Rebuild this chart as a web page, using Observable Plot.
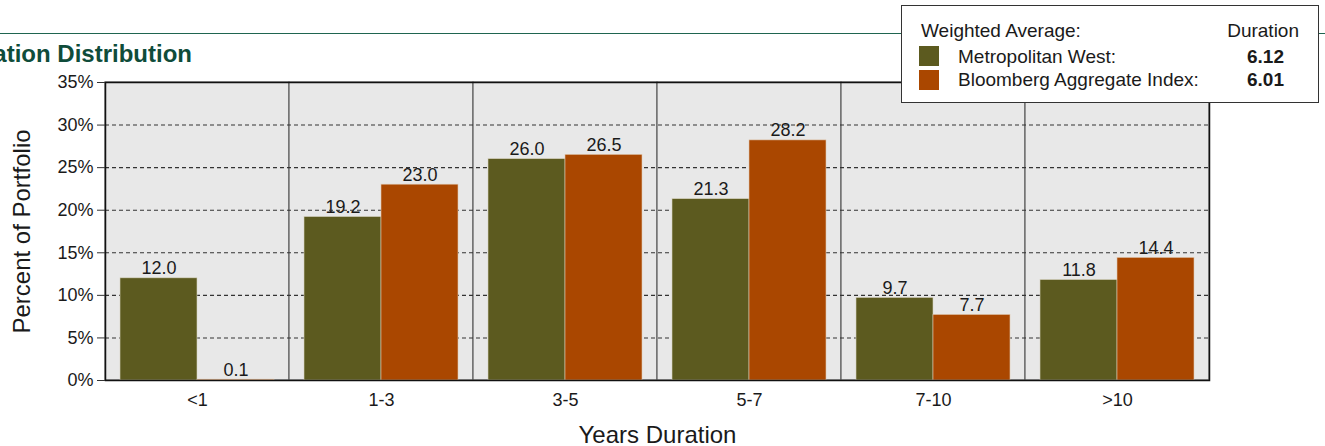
<!DOCTYPE html>
<html>
<head>
<meta charset="utf-8">
<script src="https://cdn.jsdelivr.net/npm/d3@7"></script>
<script src="https://cdn.jsdelivr.net/npm/@observablehq/plot@0.6"></script>
<style>
  html, body { margin: 0; padding: 0; background: #fff; overflow: hidden; }
  body { font-family: "Liberation Sans", Arial, Helvetica, sans-serif; color: #1a1a1a; }
  #wrap { position: relative; width: 1325px; height: 446px; }
  #topline { position: absolute; left: 0; top: 33px; width: 1325px; height: 0; border-top: 1.5px solid #1f6550; }
  #title { position: absolute; right: 1133px; top: 42px; font-size: 24px; font-weight: bold; color: #0f4c3a; white-space: nowrap; line-height: 24px; }
  #chart { position: absolute; left: 0; top: 0; }
  #legend { position: absolute; left: 901px; top: 5px; width: 416px; height: 96px; border: 1px solid #333; background: #fff; font-size: 19px; }
  #legend .t { position: absolute; line-height: 19px; white-space: nowrap; }
  #legend .sw { position: absolute; left: 17px; width: 20px; height: 20px; }
  #legend .v { font-weight: bold; }
</style>
</head>
<body>
<div id="wrap">
  <div id="topline"></div>
  <div id="chart"></div>
  <div id="title">Duration Distribution</div>
  <div id="legend"></div>
</div>
<script>
// ---- data ----
const categories = ["<1", "1-3", "3-5", "5-7", "7-10", ">10"];
const metWest = [12.0, 19.2, 26.0, 21.3, 9.7, 11.8];
const bloomberg = [0.1, 23.0, 26.5, 28.2, 7.7, 14.4];
const yTicks = [0, 5, 10, 15, 20, 25, 30, 35];
const seriesNames = ["Metropolitan West:", "Bloomberg Aggregate Index:"];
const durations = ["6.12", "6.01"];
const legendHeader = ["Weighted Average:", "Duration"];

const colors = ["#5c5a1f", "#aa4700"];

const rows = categories.map((c, i) => ({cat: c, mw: metWest[i], bb: bloomberg[i]}));

const chart = Plot.plot({
  width: 1325,
  height: 446,
  marginTop: 82,
  marginBottom: 66,
  marginLeft: 105,
  marginRight: 116,
  style: {fontFamily: '"Liberation Sans", Arial, Helvetica, sans-serif', background: "transparent", color: "#1a1a1a"},
  x: {domain: categories, padding: 0},
  y: {domain: [0, 35]},
  marks: [
    Plot.cell(categories, {x: d => d, fill: "#e8e8e8", stroke: "#666", strokeWidth: 1.3}),
    Plot.text(rows, {x: "cat", y: "mw", text: d => d.mw.toFixed(1), dx: -38.5, dy: -4, lineAnchor: "bottom", fontSize: 18, fill: "#1a1a1a"}),
    Plot.text(rows, {x: "cat", y: "bb", text: d => d.bb.toFixed(1), dx: 38.5, dy: -4, lineAnchor: "bottom", fontSize: 18, fill: "#1a1a1a"}),
    Plot.ruleY(yTicks.filter(t => t > 0 && t < 35), {stroke: "#333", strokeDasharray: "4,3", strokeWidth: 1.1}),
    Plot.barY(rows, {x: "cat", y: "mw", fill: colors[0], stroke: "#d8d2c0", strokeWidth: 0.6, insetLeft: 15, insetRight: 92}),
    Plot.barY(rows, {x: "cat", y: "bb", fill: colors[1], stroke: "#e0c8b0", strokeWidth: 0.6, insetLeft: 92, insetRight: 15}),
    Plot.frame({stroke: "#111", strokeWidth: 1.5}),
    Plot.axisY({ticks: yTicks, tickFormat: d => d + "%", tickSize: 8, tickPadding: 4, fontSize: 18, label: null, stroke: "#333"}),
    Plot.axisX({tickSize: 0, tickPadding: 13, fontSize: 18, label: null}),
    Plot.text(["Years Duration"], {frameAnchor: "bottom", dy: 62, fontSize: 24, fill: "#1a1a1a"}),
    Plot.text(["Percent of Portfolio"], {frameAnchor: "left", textAnchor: "middle", dx: -83, rotate: -90, fontSize: 24, fill: "#1a1a1a"})
  ]
});
document.getElementById("chart").appendChild(chart);

// ---- legend ----
const lg = document.getElementById("legend");
function addText(txt, css, cls) {
  const d = document.createElement("div");
  d.className = "t" + (cls ? " " + cls : "");
  d.textContent = txt;
  Object.assign(d.style, css);
  lg.appendChild(d);
}
addText(legendHeader[0], {left: "19px", top: "15px"});
addText(legendHeader[1], {right: "19px", top: "15px"});
seriesNames.forEach((name, i) => {
  const sw = document.createElement("div");
  sw.className = "sw";
  sw.style.top = (40 + i * 24) + "px";
  sw.style.background = colors[i];
  lg.appendChild(sw);
  addText(name, {left: "56px", top: (41 + i * 23) + "px"});
  addText(durations[i], {right: "34px", top: (41 + i * 23) + "px"}, "v");
});
</script>
</body>
</html>
